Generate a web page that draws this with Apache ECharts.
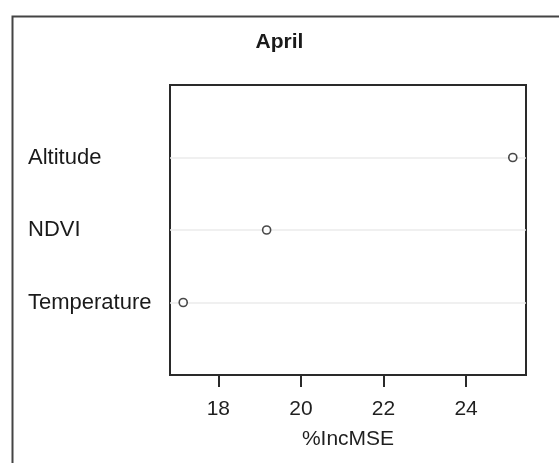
<!DOCTYPE html>
<html>
<head>
<meta charset="utf-8">
<script src="https://cdn.jsdelivr.net/npm/echarts@6/dist/echarts.min.js"></script>
<style>html,body{margin:0;padding:0;background:#fff;}#c{width:559px;height:463px;}</style>
</head>
<body>
<div id="c"></div>
<script>
var categories = ['Temperature', 'NDVI', 'Altitude'];
var incMSE = [17.15, 19.17, 25.13];
var xTicks = [18, 20, 22, 24];
var titleText = 'April';
var xName = '%IncMSE';

var chart = echarts.init(document.getElementById('c'), null, {renderer: 'canvas'});
var font = 'Liberation Sans, Arial, sans-serif';
chart.setOption({
  animation: false,
  backgroundColor: '#fff',
  title: {
    text: titleText, left: 'center', top: 27,
    textStyle: {fontFamily: font, fontSize: 21, fontWeight: 'bold', color: '#1a1a1a'}
  },
  graphic: [{
    type: 'rect', left: 10, top: 14, shape: {width: 600, height: 500},
    style: {fill: 'none', stroke: '#444', lineWidth: 2}, silent: true, z: -1
  }],
  grid: {
    left: 170, right: 33, top: 85, bottom: 88,
    show: true, borderColor: '#2a2a2a', borderWidth: 2, backgroundColor: 'transparent'
  },
  xAxis: {
    type: 'value', min: 16.83, max: 25.45,
    axisLine: {show: false},
    axisTick: {show: true, length: 12, customValues: xTicks, lineStyle: {color: '#2a2a2a', width: 2}},
    axisLabel: {customValues: xTicks, margin: 24, fontFamily: font, fontSize: 21, color: '#1f1f1f'},
    splitLine: {show: false},
    name: xName, nameLocation: 'middle', nameGap: 54,
    nameTextStyle: {fontFamily: font, fontSize: 21, color: '#1f1f1f'}
  },
  yAxis: {
    type: 'value', min: 0, max: 4, interval: 1,
    axisLine: {show: false},
    axisTick: {show: false},
    axisLabel: {
      align: 'left', margin: 142, fontFamily: font, fontSize: 22, color: '#1a1a1a',
      formatter: function (v) { return (v >= 1 && v <= categories.length) ? categories[v - 1] : ''; }
    },
    splitLine: {show: true, showMinLine: false, showMaxLine: false, lineStyle: {color: '#ebebeb', width: 1.5}}
  },
  series: [{
    type: 'scatter',
    data: incMSE.map(function (v, i) { return [v, i + 1]; }),
    symbol: 'circle', symbolSize: 8,
    itemStyle: {color: '#fff', borderColor: '#1a1a1a', borderWidth: 1.6}
  }]
});
</script>
</body>
</html>
